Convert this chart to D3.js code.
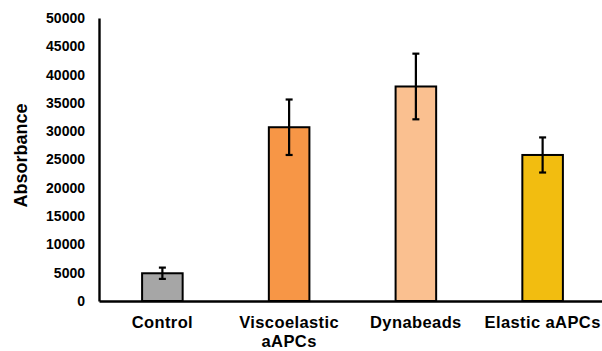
<!DOCTYPE html>
<html>
<head>
<meta charset="utf-8">
<script src="https://cdn.jsdelivr.net/npm/d3@7"></script>
<style>
  html, body { margin: 0; padding: 0; background: #fff; }
  svg { display: block; }
  text { font-family: "Liberation Sans", Arial, sans-serif; font-weight: bold; fill: #000; }
</style>
</head>
<body>
<svg id="chart" width="602" height="351"></svg>
<script>
// Groups, means and error half-widths
const categories = ["Control", "Viscoelastic aAPCs", "Dynabeads", "Elastic aAPCs"];
const labelLines = [["Control"], ["Viscoelastic", "aAPCs"], ["Dynabeads"], ["Elastic aAPCs"]];
const means = [4900, 30700, 37900, 25800];
const errors = [1000, 4900, 5800, 3100];
const colors = ["#a6a6a6", "#f79646", "#fac090", "#f2bd10"];
const yTicks = [0, 5000, 10000, 15000, 20000, 25000, 30000, 35000, 40000, 45000, 50000];

const svg = d3.select("#chart");
const x0 = 99, x1 = 606, yTop = 18, yBase = 301;

const x = d3.scaleBand().domain(categories).range([x0, x1]).paddingInner(0.68).paddingOuter(0.34);
const y = d3.scaleLinear().domain([0, 50000]).range([yBase, yTop]);

// Bars
svg.selectAll("rect.bar")
  .data(categories)
  .join("rect")
  .attr("class", "bar")
  .attr("x", d => x(d))
  .attr("width", x.bandwidth())
  .attr("y", (d, i) => y(means[i]))
  .attr("height", (d, i) => y(0) - y(means[i]))
  .attr("fill", (d, i) => colors[i])
  .attr("stroke", "#000")
  .attr("stroke-width", 2);

// Error bars
const eb = svg.selectAll("g.err").data(categories).join("g").attr("class", "err")
  .attr("transform", d => `translate(${x(d) + x.bandwidth() / 2},0)`);
eb.append("line")
  .attr("y1", (d, i) => y(means[i] + errors[i]))
  .attr("y2", (d, i) => y(means[i] - errors[i]))
  .attr("stroke", "#000").attr("stroke-width", 2.2);
eb.append("line")
  .attr("x1", -3.5).attr("x2", 3.5)
  .attr("y1", (d, i) => y(means[i] + errors[i]))
  .attr("y2", (d, i) => y(means[i] + errors[i]))
  .attr("stroke", "#000").attr("stroke-width", 2.2);
eb.append("line")
  .attr("x1", -3.5).attr("x2", 3.5)
  .attr("y1", (d, i) => y(means[i] - errors[i]))
  .attr("y2", (d, i) => y(means[i] - errors[i]))
  .attr("stroke", "#000").attr("stroke-width", 2.2);

// Y axis
const yAxis = svg.append("g")
  .attr("transform", `translate(${x0},0)`)
  .call(d3.axisLeft(y).tickValues(yTicks).tickSize(0).tickPadding(14).tickFormat(d3.format("d")));
yAxis.select(".domain").attr("stroke", "#000").attr("stroke-width", 2.4);
yAxis.selectAll("text").style("font-size", "14px").style("font-family", "'Liberation Sans', Arial, sans-serif").style("font-weight", "bold");

// X axis
const xAxis = svg.append("g")
  .attr("transform", `translate(0,${yBase})`)
  .call(d3.axisBottom(x).tickSize(0).tickFormat(""));
xAxis.select(".domain").attr("stroke", "#000").attr("stroke-width", 2.4);

// Category labels (multi-line where needed)
categories.forEach((c, i) => {
  const t = svg.append("text")
    .attr("x", x(c) + x.bandwidth() / 2)
    .attr("y", 328)
    .attr("text-anchor", "middle")
    .style("font-size", "16.5px")
    .style("letter-spacing", "0.4px");
  labelLines[i].forEach((ln, k) => {
    t.append("tspan").attr("x", x(c) + x.bandwidth() / 2).attr("dy", k === 0 ? 0 : 19).text(ln);
  });
});

// Y axis title
svg.append("text")
  .attr("transform", `translate(27,${(yTop + yBase) / 2 - 4}) rotate(-90)`)
  .attr("text-anchor", "middle")
  .style("font-size", "18px")
  .text("Absorbance");
</script>
</body>
</html>
